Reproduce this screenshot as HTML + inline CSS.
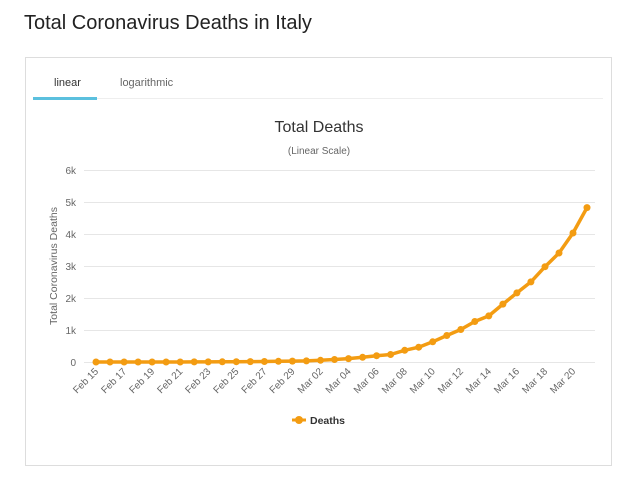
<!DOCTYPE html>
<html><head><meta charset="utf-8"><style>
body{margin:0;background:#fff;width:638px;height:489px;overflow:hidden;font-family:"Liberation Sans",sans-serif}
</style></head><body>
<svg id="s" width="638" height="489" xmlns="http://www.w3.org/2000/svg" font-family="Liberation Sans, sans-serif">
<text x="24" y="29" font-size="20" fill="#222">Total Coronavirus Deaths in Italy</text>
<rect x="25.5" y="57.5" width="586" height="408" fill="#fff" stroke="#ddd"/>
<line x1="33" y1="98.5" x2="603" y2="98.5" stroke="#eee"/>
<rect x="33" y="97" width="64" height="3" fill="#5bc0de"/>
<text x="54" y="86" font-size="11" fill="#333">linear</text>
<text x="120" y="86" font-size="11" fill="#666">logarithmic</text>
<text x="319" y="132" font-size="16" fill="#333" text-anchor="middle">Total Deaths</text>
<text x="319" y="154" font-size="10" fill="#666" text-anchor="middle">(Linear Scale)</text>
<text transform="translate(57,266) rotate(-90)" font-size="10.5" fill="#666" text-anchor="middle">Total Coronavirus Deaths</text>
<g id="g"></g>
<line x1="292" y1="420" x2="306" y2="420" stroke="#f39c12" stroke-width="3"/>
<circle cx="299" cy="420" r="4" fill="#f39c12"/>
<text x="310" y="424" font-size="10.5" font-weight="bold" fill="#333">Deaths</text>
</svg>
<script>
var g=document.getElementById('g'),h='';
var yl=['0','1k','2k','3k','4k','5k','6k'];
for(var i=0;i<7;i++){var y=362-32*i;h+='<line x1="84" x2="595" y1="'+(y+.5)+'" y2="'+(y+.5)+'" stroke="#e6e6e6"/>';h+='<text x="76" y="'+(y+4)+'" font-size="10" fill="#666" text-anchor="end">'+yl[i]+'</text>';}
var d=[0,0,0,0,0,0,1,2,3,7,10,12,17,21,29,34,52,79,107,148,197,233,366,463,631,827,1016,1266,1441,1809,2158,2503,2978,3405,4032,4825];
var pts=[];
for(var i=0;i<36;i++){var x=96+i*14.03,y=362-d[i]*0.032;pts.push(x.toFixed(1)+','+y.toFixed(1));}
h+='<polyline points="'+pts.join(' ')+'" fill="none" stroke="#f39c12" stroke-width="3.5" stroke-linejoin="round"/>';
for(var i=0;i<36;i++){var p=pts[i].split(',');h+='<circle cx="'+p[0]+'" cy="'+p[1]+'" r="3.5" fill="#f39c12"/>';}
var lab=['Feb 15','Feb 17','Feb 19','Feb 21','Feb 23','Feb 25','Feb 27','Feb 29','Mar 02','Mar 04','Mar 06','Mar 08','Mar 10','Mar 12','Mar 14','Mar 16','Mar 18','Mar 20'];
for(var i=0;i<18;i++){var x=96+i*2*14.03+3;h+='<text transform="translate('+x.toFixed(1)+',372) rotate(-45)" font-size="10" fill="#666" text-anchor="end">'+lab[i]+'</text>';}
g.innerHTML=h;
</script>
</body></html>
